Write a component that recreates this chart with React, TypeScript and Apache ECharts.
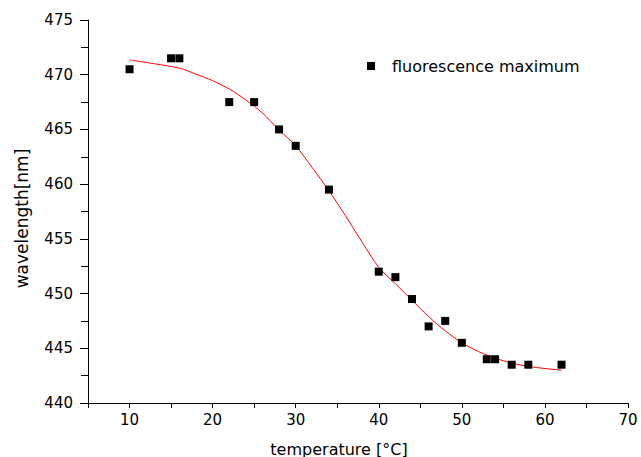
import React, { useEffect, useRef } from "react";
import * as echarts from "echarts";

const pointX = [10, 15, 16, 22, 25, 28, 30, 34, 40, 42, 44, 46, 48, 50, 53, 54, 56, 58, 62];
const pointY = [470.5, 471.5, 471.5, 467.5, 467.5, 465, 463.5, 459.5, 452, 451.5, 449.5, 447, 447.5, 445.5, 444, 444, 443.5, 443.5, 443.5];

const fitX = [10, 13, 16, 18, 20, 22, 24, 26, 28, 30, 32, 34, 36, 38, 40, 42, 44, 46, 48, 50, 52, 54, 56, 58, 60, 62];
const fitY = [471.35, 471.0, 470.6, 470.05, 469.45, 468.7, 467.7, 466.5, 464.95, 463.5, 461.5, 459.4, 457.1, 454.7, 452.4, 450.9, 449.4, 447.9, 446.6, 445.5, 444.7, 444.1, 443.65, 443.35, 443.15, 443.0];

const xTicks = [10, 20, 30, 40, 50, 60, 70];
const seriesName = "fluorescence maximum";
const xTitle = "temperature [°C]";
const yTitle = "wavelength[nm]";

const FONT = "DejaVu Sans";

export default function App() {
  const ref = useRef<HTMLDivElement>(null);
  useEffect(() => {
    if (!ref.current) return;
    const chart = echarts.init(ref.current, undefined, { renderer: "svg" });
    chart.setOption({
      animation: false,
      backgroundColor: "#ffffff",
      grid: { left: 88, right: 13, top: 20, bottom: 54, containLabel: false, outerBoundsMode: "none" },
      legend: {
        data: [{ name: seriesName, icon: "rect", itemStyle: { color: "#000000", opacity: 1 } }],
        left: 362,
        top: 53,
        itemWidth: 8,
        itemHeight: 8,
        textStyle: { fontFamily: FONT, fontSize: 16, color: "#000", padding: [0, 0, 0, 12] },
      },
      xAxis: {
        type: "value",
        min: 5,
        max: 70,
        interval: 5,
        name: xTitle,
        nameLocation: "middle",
        nameGap: 38,
        nameTextStyle: { fontFamily: FONT, fontSize: 16, color: "#000", padding: [0, 38, 0, 0] },
        axisLine: { show: true, lineStyle: { color: "#000", width: 1 } },
        axisTick: { show: true, inside: false, length: 5, lineStyle: { color: "#000" } },
        axisLabel: {
          margin: 9,
          fontFamily: FONT,
          fontSize: 15,
          color: "#000",
          formatter: (v: number) => (xTicks.includes(v) ? String(v) : ""),
        },
        splitLine: { show: false },
      },
      yAxis: {
        type: "value",
        min: 440,
        max: 475,
        interval: 5,
        name: yTitle,
        nameLocation: "middle",
        nameGap: 58,
        nameTextStyle: { fontFamily: FONT, fontSize: 17, color: "#000", padding: [0, 14, 0, 0] },
        axisLine: { show: true, lineStyle: { color: "#000", width: 1 } },
        axisTick: { show: true, inside: false, length: 8, lineStyle: { color: "#000" } },
        minorTick: { show: true, splitNumber: 2, length: 7, lineStyle: { color: "#000" } },
        axisLabel: { margin: 15, fontFamily: FONT, fontSize: 15, color: "#000" },
        splitLine: { show: false },
      },
      series: [
        {
          type: "line",
          name: "fit",
          data: fitX.map((x, i) => [x, fitY[i]]),
          smooth: 0.3,
          showSymbol: false,
          symbol: "none",
          lineStyle: { color: "#ff0000", width: 1 },
          z: 2,
        },
        {
          type: "scatter",
          name: seriesName,
          data: pointX.map((x, i) => [x, pointY[i]]),
          symbol: "rect",
          symbolSize: 8,
          itemStyle: { color: "#000000", opacity: 1 },
          z: 3,
        },
      ],
    });
    return () => chart.dispose();
  }, []);
  return (
    <div
      ref={ref}
      style={{ position: "fixed", left: 0, top: 0, width: 641, height: 457 }}
    />
  );
}
